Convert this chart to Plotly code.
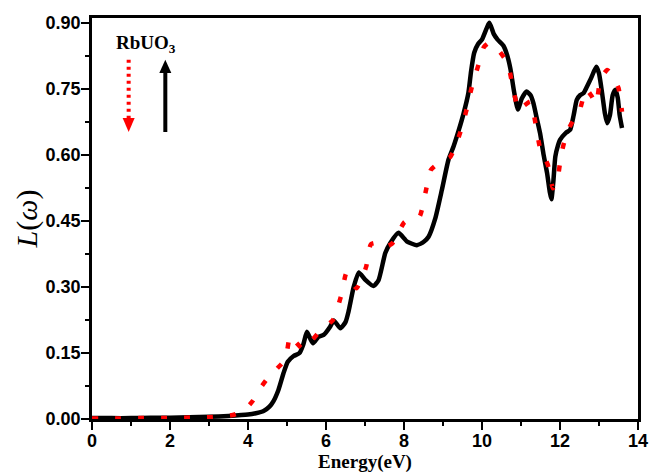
import plotly.graph_objects as go

# Loss function L(w) of RbUO3 for the two spin channels
energy_up = [0.0, 0.5, 1.0, 1.5, 2.0, 2.5, 3.0, 3.5, 4.0, 4.2, 4.4, 4.55, 4.65, 4.78,
             4.91, 5.02, 5.17, 5.32, 5.42, 5.51, 5.60, 5.67, 5.81, 5.94, 6.11, 6.20,
             6.37, 6.50, 6.58, 6.71, 6.84, 7.01, 7.22, 7.35, 7.52, 7.65, 7.86, 8.08,
             8.33, 8.50, 8.63, 8.80, 8.97, 9.14, 9.27, 9.40, 9.53, 9.65, 9.72, 9.80,
             9.90, 10.0, 10.19, 10.30, 10.40, 10.55, 10.65, 10.73, 10.82, 10.92, 11.02,
             11.14, 11.25, 11.32, 11.40, 11.49, 11.58, 11.67, 11.74, 11.78, 11.83,
             11.88, 11.95, 12.0, 12.15, 12.26, 12.35, 12.43, 12.52, 12.60, 12.69,
             12.80, 12.93, 13.00, 13.08, 13.15, 13.21, 13.28, 13.35, 13.42, 13.48,
             13.53, 13.59]
loss_up = [0.002, 0.002, 0.002, 0.003, 0.003, 0.004, 0.005, 0.007, 0.010, 0.013, 0.018,
           0.028, 0.040, 0.066, 0.104, 0.130, 0.143, 0.150, 0.170, 0.198, 0.182, 0.172,
           0.187, 0.191, 0.210, 0.224, 0.206, 0.220, 0.245, 0.300, 0.333, 0.316, 0.302,
           0.316, 0.377, 0.400, 0.423, 0.403, 0.395, 0.402, 0.414, 0.455, 0.520, 0.589,
           0.619, 0.655, 0.695, 0.740, 0.790, 0.832, 0.852, 0.862, 0.900, 0.875, 0.862,
           0.848, 0.825, 0.795, 0.745, 0.703, 0.728, 0.744, 0.735, 0.717, 0.685, 0.649,
           0.600, 0.558, 0.515, 0.499, 0.540, 0.596, 0.622, 0.634, 0.650, 0.657, 0.690,
           0.725, 0.736, 0.740, 0.755, 0.775, 0.800, 0.785, 0.740, 0.695, 0.672, 0.690,
           0.735, 0.748, 0.730, 0.690, 0.661]

energy_dn = [0.0, 0.6, 1.2, 1.8, 2.4, 3.0, 3.61, 3.9, 4.13, 4.3, 4.49, 4.75, 4.96, 5.08,
             5.22, 5.41, 5.6, 5.87, 6.18, 6.38, 6.52, 6.62, 6.78, 6.92, 7.03, 7.15, 7.3,
             7.45, 7.69, 8.01, 8.2, 8.40, 8.55, 8.69, 8.95, 9.19, 9.42, 9.59, 9.73, 9.91,
             10.05, 10.17, 10.40, 10.66, 10.79, 10.94, 11.08, 11.24, 11.38, 11.48, 11.69,
             11.82, 11.94, 12.03, 12.18, 12.35, 12.50, 12.67, 12.80, 12.93, 13.03, 13.21,
             13.35, 13.50, 13.59]
loss_dn = [0.001, 0.001, 0.002, 0.002, 0.003, 0.004, 0.009, 0.020, 0.042, 0.068, 0.091,
           0.115, 0.136, 0.189, 0.175, 0.159, 0.175, 0.202, 0.225, 0.278, 0.331, 0.315,
           0.297, 0.320, 0.346, 0.397, 0.400, 0.390, 0.398, 0.447, 0.455, 0.460, 0.514,
           0.566, 0.585, 0.596, 0.645, 0.698, 0.751, 0.805, 0.845, 0.854, 0.840, 0.808,
           0.754, 0.702, 0.712, 0.721, 0.668, 0.619, 0.577, 0.524, 0.547, 0.600, 0.652,
           0.680, 0.700, 0.749, 0.735, 0.716, 0.770, 0.793, 0.780, 0.752, 0.698]

x_ticks = [0, 2, 4, 6, 8, 10, 12, 14]
y_ticks = [0.00, 0.15, 0.30, 0.45, 0.60, 0.75, 0.90]
y_ticktext = ["0.00", "0.15", "0.30", "0.45", "0.60", "0.75", "0.90"]

fig = go.Figure()
fig.add_trace(go.Scatter(
    x=energy_up, y=loss_up, mode="lines",
    line=dict(color="black", width=4.5, shape="spline", smoothing=0.5),
    showlegend=False))
fig.add_trace(go.Scatter(
    x=energy_dn, y=loss_dn, mode="lines",
    line=dict(color="#ff0000", width=4.5, dash="6px,17px", shape="spline", smoothing=0.5),
    showlegend=False))

# spin-channel key: label plus dotted (down) and solid (up) arrows
fig.add_annotation(x=1.39, y=0.853, xref="x", yref="y", text="<b>RbUO<sub>3</sub></b>",
                   showarrow=False,
                   font=dict(family="Liberation Serif", size=19, color="black"))
fig.add_shape(type="line", xref="x", yref="y", x0=0.94, x1=0.94, y0=0.816, y1=0.684,
              line=dict(color="#ff0000", width=4, dash="3px,4px"))
fig.add_shape(type="path", xref="x", yref="y",
              path="M 0.786 0.684 L 1.094 0.684 L 0.94 0.652 Z",
              fillcolor="#ff0000", line=dict(width=0))
fig.add_shape(type="line", xref="x", yref="y", x0=1.88, x1=1.88, y0=0.652, y1=0.786,
              line=dict(color="black", width=4))
fig.add_shape(type="path", xref="x", yref="y",
              path="M 1.726 0.786 L 2.034 0.786 L 1.88 0.816 Z",
              fillcolor="black", line=dict(width=0))

axis_common = dict(
    showline=True, linecolor="black", linewidth=2.5, mirror=True,
    ticks="outside", ticklen=8, tickwidth=2, tickcolor="black",
    showgrid=False, zeroline=False, automargin=False,
    tickfont=dict(family="Liberation Sans", size=18, color="black", weight="bold"),
)

fig.update_xaxes(
    range=[0, 14], tickvals=x_ticks, ticklabelstandoff=-4,
    minor=dict(ticks="outside", ticklen=4, tickwidth=2, tickcolor="black", dtick=1,
               showgrid=False),
    title=dict(text="<b>Energy(eV)</b>", standoff=0,
               font=dict(family="Liberation Serif", size=19, color="black")),
    **axis_common)
fig.update_yaxes(
    range=[0, 0.911], tickvals=y_ticks, ticktext=y_ticktext, ticklabelstandoff=-3,
    minor=dict(ticks="outside", ticklen=4, tickwidth=2, tickcolor="black", dtick=0.075,
               showgrid=False),
    title=dict(text="<i>L</i>(<i>ω</i>)", standoff=0,
               font=dict(family="Liberation Serif", size=30, color="black")),
    **axis_common)

fig.update_layout(
    width=649, height=473, autosize=False,
    margin=dict(l=92, r=11, t=18, b=54),
    paper_bgcolor="white", plot_bgcolor="white",
)

fig.write_html("out.html")
